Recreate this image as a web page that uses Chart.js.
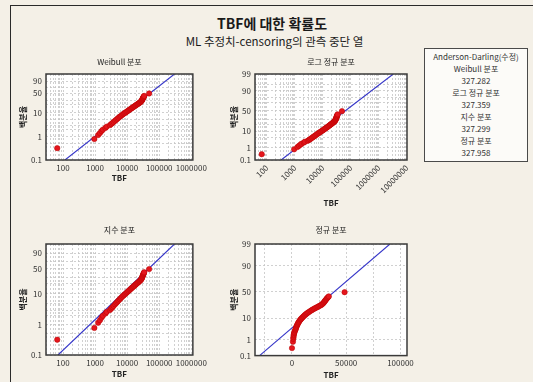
<!DOCTYPE html>
<html>
<head>
<meta charset="utf-8">
<script src="https://cdn.jsdelivr.net/npm/chart.js@4.4.1/dist/chart.umd.min.js"></script>
<style>
  html, body { margin: 0; padding: 0; background: #f4f0e7; }
  body { width: 533px; height: 382px; position: relative; overflow: hidden;
         font-family: "Noto Sans CJK KR", "Noto Sans", sans-serif; color: #1a1a1a; }
  #frame { position: absolute; left: 10px; top: 5px; width: 560px; height: 400px;
           border-left: 1.5px solid #2a2a2a; border-top: 1.5px solid #2a2a2a; }
  #title { position: absolute; left: 0; width: 544px; top: 14px; text-align: center;
           font-size: 14px; font-weight: bold; line-height: 18px; }
  #subtitle { position: absolute; left: 0; width: 549px; top: 34px; text-align: center;
              font-size: 11.5px; line-height: 15px; }
  #legend { position: absolute; left: 424px; top: 48px; width: 102px; height: 110px;
            border: 1px solid #4a4a4a; background: #fcfbf8; text-align: center;
            font-size: 8px; line-height: 12px; padding-top: 2px; color: #333; }
  canvas { position: absolute; }
</style>
</head>
<body>
<div id="frame"></div>
<div id="title">TBF에 대한 확률도</div>
<div id="subtitle">ML 추정치-censoring의 관측 중단 열</div>
<div id="legend"></div>
<canvas id="pWeibull"     width="200" height="135" style="left:10px;top:52px"></canvas>
<canvas id="pLognormal"   width="195" height="160" style="left:225px;top:52px"></canvas>
<canvas id="pExponential" width="200" height="160" style="left:10px;top:222px"></canvas>
<canvas id="pNormal"      width="195" height="160" style="left:225px;top:222px"></canvas>
<script>
// ---- data ----
const distNames = ['Weibull 분포', '로그 정규 분포', '지수 분포', '정규 분포'];
const adStatistics = ['327.282', '327.359', '327.299', '327.958'];
const legendHeader = 'Anderson-Darling(수정)';

// time between failures and plotting position (%)
const tbf = [
  66, 950, 1250, 1420, 1600, 1750, 2100, 2300, 2900, 3200,
  3500, 3800, 4200, 4600, 5000, 5400, 5900, 6400, 7000, 7600,
  8200, 8800, 9500, 10200, 11000, 11800, 12600, 13400, 14300, 15200,
  16200, 17200, 18200, 19200, 20300, 21400, 22500, 23600, 24600, 25600,
  26600, 27500, 28300, 29000, 29600, 30200, 30800, 31400, 32000, 32600,
  33300, 34000, 48500
];
const pct = [
  0.32, 0.78, 1.15, 1.40, 1.70, 1.95, 2.30, 2.60, 3.00, 3.35,
  3.70, 4.10, 4.60, 5.10, 5.60, 6.10, 6.70, 7.30, 8.00, 8.70,
  9.30, 9.90, 10.6, 11.3, 12.1, 12.9, 13.7, 14.5, 15.3, 16.1,
  17.0, 17.9, 18.8, 19.7, 20.6, 21.5, 22.4, 23.3, 24.2, 25.1,
  26.0, 27.0, 28.2, 29.5, 31.0, 32.5, 34.0, 35.5, 37.0, 38.5,
  40.0, 41.5, 49.5
];

// fitted distribution lines (TBF at 0.1 % and at 99 %)
const lineEndPct = [0.1, 99];
const weibullLineTbf = [115, 300000];
const lognormalLineTbf = [325, 3300000];
const exponentialLineTbf = [70, 300000];
const normalLineTbf = [-29800, 90300];

// tick labels
const logTickLabels = [100, 1000, 10000, 100000, 1000000];
const logTickLabelsWide = [100, 1000, 10000, 100000, 1000000, 10000000];
const linearTickLabels = [0, 50000, 100000];
const linearGrid = [-25000, 0, 25000, 50000, 75000, 100000];
const weibullPctLabels = [0.1, 1, 10, 50, 90];
const normalPctLabels = [0.1, 1, 10, 50, 90, 99];

// ---- legend ----
document.getElementById('legend').innerHTML =
  [legendHeader].concat(...distNames.map((n, i) => [n, adStatistics[i]]))
    .map(s => '<div>' + s + '</div>').join('');

// ---- probability scale ----
function normInv(p) {
  const a = [-3.969683028665376e+01, 2.209460984245205e+02, -2.759285104469687e+02,
             1.383577518672690e+02, -3.066479806614716e+01, 2.506628277459239e+00];
  const b = [-5.447609879822406e+01, 1.615858368580409e+02, -1.556989798598866e+02,
             6.680131188771972e+01, -1.328068155288572e+01];
  const c = [-7.784894002430293e-03, -3.223964580411365e-01, -2.400758277161838e+00,
             -2.549732539343734e+00, 4.374664141464968e+00, 2.938163982698783e+00];
  const d = [7.784695709041462e-03, 3.224671290700398e-01, 2.445134137142996e+00,
             3.754408661907416e+00];
  const pl = 0.02425;
  let q, r;
  if (p < pl) {
    q = Math.sqrt(-2 * Math.log(p));
    return (((((c[0]*q+c[1])*q+c[2])*q+c[3])*q+c[4])*q+c[5]) / ((((d[0]*q+d[1])*q+d[2])*q+d[3])*q+1);
  }
  if (p <= 1 - pl) {
    q = p - 0.5; r = q * q;
    return (((((a[0]*r+a[1])*r+a[2])*r+a[3])*r+a[4])*r+a[5])*q / (((((b[0]*r+b[1])*r+b[2])*r+b[3])*r+b[4])*r+1);
  }
  q = Math.sqrt(-2 * Math.log(1 - p));
  return -(((((c[0]*q+c[1])*q+c[2])*q+c[3])*q+c[4])*q+c[5]) / ((((d[0]*q+d[1])*q+d[2])*q+d[3])*q+1);
}

const probTransforms = {
  weibull: p => Math.log(-Math.log(1 - p / 100)),
  normal: p => normInv(p / 100)
};
const probGrids = {
  weibull: [0.1, 0.5, 1, 2, 3, 5, 10, 20, 30, 50, 70, 90, 99],
  lognormal: [0.1, 1, 5, 10, 20, 30, 50, 70, 80, 90, 95, 99],
  normal: [0.1, 1, 10, 50, 90, 99]
};

class ProbabilityScale extends Chart.Scale {
  static id = 'probability';
  static defaults = {};
  determineDataLimits() { this.min = this.options.min; this.max = this.options.max; }
  buildTicks() { return probGrids[this.options.gridKind].map(v => ({ value: v })); }
  getLabelForValue(v) { return String(v); }
  _f(v) { return probTransforms[this.options.transform](v); }
  getPixelForValue(v) {
    const a = this._f(this.min), b = this._f(this.max);
    return this.getPixelForDecimal((this._f(v) - a) / (b - a));
  }
  getValueForPixel(px) {
    const target = this.getDecimalForPixel(px);
    const a = this._f(this.min), b = this._f(this.max);
    let lo = this.min, hi = this.max;
    for (let i = 0; i < 50; i++) {
      const mid = (lo + hi) / 2;
      if ((this._f(mid) - a) / (b - a) < target) lo = mid; else hi = mid;
    }
    return (lo + hi) / 2;
  }
}
Chart.register(ProbabilityScale);

// ---- shared styling ----
Chart.defaults.font.family = '"Noto Sans CJK KR", "Noto Sans", sans-serif';
Chart.defaults.font.size = 8;
Chart.defaults.color = '#222';

const plotBox = {
  id: 'plotBox',
  beforeDraw(chart) {
    const { ctx, chartArea: a } = chart;
    ctx.save();
    ctx.fillStyle = '#ffffff';
    ctx.fillRect(a.left, a.top, a.width, a.height);
    ctx.restore();
  },
  afterDraw(chart) {
    const { ctx, chartArea: a } = chart;
    ctx.save();
    ctx.strokeStyle = '#3a3a3a';
    ctx.lineWidth = 1.5;
    ctx.strokeRect(a.left, a.top, a.width, a.height);
    ctx.restore();
  }
};

function logGrid(min, max) {
  const out = [];
  for (let e = 1; e <= 7; e++) {
    for (let m = 1; m <= 9; m++) {
      const v = m * Math.pow(10, e);
      if (v >= min && v <= max) out.push(v);
    }
  }
  return out;
}

const gridStyle = { color: '#c4c4c4', lineWidth: 0.8, drawTicks: false };
const borderStyle = { display: false, dash: [2, 2] };

function makePanel(id, cfg) {
  const xScale = cfg.xLinear
    ? { type: 'linear', min: cfg.xMin, max: cfg.xMax }
    : { type: 'logarithmic', min: cfg.xMin, max: cfg.xMax };
  const xTicks = cfg.xLinear ? linearGrid : logGrid(cfg.xMin, cfg.xMax);
  Object.assign(xScale, {
    grid: gridStyle,
    border: borderStyle,
    afterBuildTicks: s => { s.ticks = xTicks.map(v => ({ value: v })); },
    afterFit: s => { s.height = cfg.xHeight; },
    ticks: {
      autoSkip: false, padding: 3, color: '#333',
      minRotation: cfg.rotate ? 45 : 0, maxRotation: cfg.rotate ? 45 : 0,
      callback: v => cfg.xLabels.includes(v) ? String(v) : ''
    },
    title: { display: true, text: 'TBF', font: { size: 8, weight: 'bold' },
             padding: { top: 0, bottom: cfg.xTitlePad } }
  });

  return new Chart(document.getElementById(id), {
    type: 'scatter',
    data: {
      datasets: [
        {
          data: tbf.map((t, i) => ({ x: t, y: pct[i] })),
          pointRadius: 2.7, backgroundColor: '#e4161d',
          borderColor: '#b80000', borderWidth: 0.5
        },
        {
          data: cfg.lineTbf.map((t, i) => ({ x: t, y: lineEndPct[i] })),
          showLine: true, pointRadius: 0, borderColor: '#3434c8', borderWidth: 1.1
        }
      ]
    },
    options: {
      responsive: false, animation: false, events: [], devicePixelRatio: 1,
      layout: { padding: { left: 0, right: cfg.padRight, top: 0, bottom: 0 } },
      plugins: {
        legend: { display: false },
        tooltip: { enabled: false },
        title: {
          display: true, text: cfg.title, fullSize: false, color: '#222',
          font: { size: 8, weight: 'normal' },
          padding: { top: cfg.titleTop, bottom: 22 - 9.6 - cfg.titleTop }
        }
      },
      scales: {
        x: xScale,
        y: {
          type: 'probability', transform: cfg.transform, gridKind: cfg.gridKind,
          min: 0.1, max: 99,
          grid: gridStyle,
          border: borderStyle,
          afterFit: s => { s.width = cfg.yWidth; },
          ticks: {
            autoSkip: false, padding: 4, color: '#333',
            callback: v => cfg.yLabels.includes(v) ? String(v) : ''
          },
          title: { display: true, text: '백분율', font: { size: 8, weight: 'bold' },
                   padding: { top: cfg.yTitlePad, bottom: 0 } }
        }
      }
    },
    plugins: [plotBox]
  });
}

makePanel('pWeibull', {
  title: distNames[0], transform: 'weibull', gridKind: 'weibull',
  xMin: 29.5, xMax: 1.12e6, xLabels: logTickLabels, lineTbf: weibullLineTbf,
  yLabels: weibullPctLabels, yWidth: 36, xHeight: 27, padRight: 16,
  titleTop: 5, yTitlePad: 8.2, xTitlePad: 3.9
});
makePanel('pLognormal', {
  title: distNames[1], transform: 'normal', gridKind: 'lognormal',
  xMin: 38, xMax: 1.02e7, xLabels: logTickLabelsWide, lineTbf: lognormalLineTbf,
  yLabels: normalPctLabels, yWidth: 30, xHeight: 52, padRight: 13, rotate: true,
  titleTop: 5, yTitlePad: 3.7, xTitlePad: 4.2
});
makePanel('pExponential', {
  title: distNames[2], transform: 'weibull', gridKind: 'weibull',
  xMin: 29.5, xMax: 1.12e6, xLabels: logTickLabels, lineTbf: exponentialLineTbf,
  yLabels: weibullPctLabels, yWidth: 36, xHeight: 27, padRight: 16,
  titleTop: 3.5, yTitlePad: 8.2, xTitlePad: 3.2
});
makePanel('pNormal', {
  title: distNames[3], transform: 'normal', gridKind: 'normal', xLinear: true,
  xMin: -34000, xMax: 106000, xLabels: linearTickLabels, lineTbf: normalLineTbf,
  yLabels: normalPctLabels, yWidth: 30, xHeight: 26.4, padRight: 13,
  titleTop: 3.5, yTitlePad: 3.7, xTitlePad: 2.2
});
</script>
</body>
</html>
